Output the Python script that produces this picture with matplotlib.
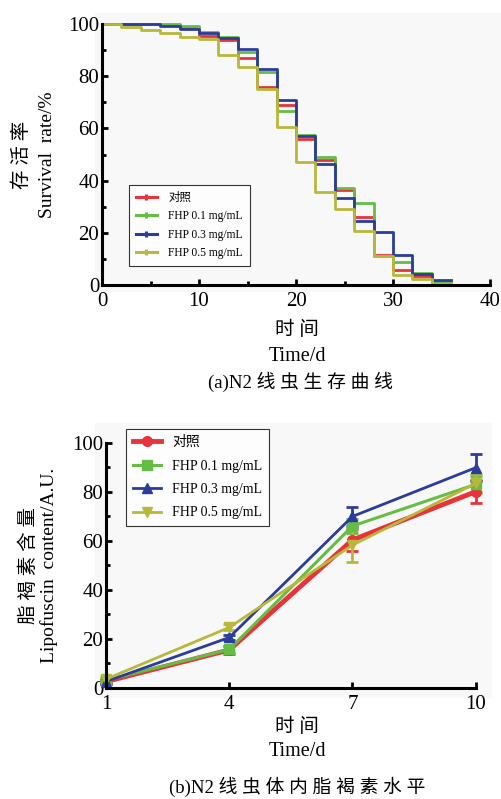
import numpy as np
import matplotlib
matplotlib.use('Agg')
import matplotlib.pyplot as plt
from matplotlib.lines import Line2D
from matplotlib.patches import Rectangle
from matplotlib.ticker import MultipleLocator

plt.rcParams['font.family'] = ['Liberation Serif', 'Noto Sans CJK SC']

# ---- (a) survival curves, step every 2 days ----
days = [0, 2, 4, 6, 8, 10, 12, 14, 16, 18, 20, 22, 24, 26, 28, 30, 32, 34, 36]
surv_ctrl = [100, 100, 100, 99.6, 98.4, 95.4, 93.9, 86.9, 76.0, 69.0, 55.9, 48.0, 36.5, 26.0, 11.6, 5.9, 3.3, 0.8]
surv_01 = [100, 100, 100, 100, 99.2, 96.8, 95.2, 89.2, 81.5, 66.7, 57.5, 49.0, 37.1, 31.4, 11.2, 8.7, 4.6, 1.3]
surv_03 = [100, 100, 100, 99.4, 98.0, 96.7, 94.8, 90.3, 82.8, 70.9, 56.9, 46.3, 33.3, 24.7, 20.2, 11.6, 4.3, 1.8]
surv_05 = [100, 98.7, 97.7, 96.4, 94.9, 94.1, 88.1, 83.7, 75.1, 60.7, 47.0, 35.8, 29.1, 20.5, 11.0, 3.7, 2.3, 0.5]

# ---- (b) lipofuscin content ----
time_b = [1, 4, 7, 10]
lipo_ctrl = [2.5, 15.4, 60.3, 80.0]
lipo_01 = [3.0, 15.6, 66.0, 83.0]
lipo_03 = [2.5, 20.5, 69.9, 89.8]
lipo_05 = [3.5, 24.6, 58.2, 83.4]
err_ctrl = [0.8, 1.8, 4.4, 4.8]
err_01 = [0.8, 1.5, 3.0, 3.5]
err_03 = [0.8, 1.2, 4.0, 5.4]
err_05 = [0.8, 1.2, 7.0, 3.7]

labels = ['对照', 'FHP 0.1 mg/mL', 'FHP 0.3 mg/mL', 'FHP 0.5 mg/mL']
colors = ['#e8333a', '#66bd45', '#2b3d9c', '#b8b83a']

W, H = 501, 799
fig = plt.figure(figsize=(W / 100, H / 100), dpi=100)

def fx(px):
    return px / W

def fy(py):
    return 1 - py / H

# light gray panels behind the plots
for x0, y0, x1, y1 in [(95, 13, 501, 292), (95, 423, 492, 698)]:
    fig.patches.append(Rectangle((fx(x0), fy(y1)), fx(x1 - x0), (y1 - y0) / H,
                                 transform=fig.transFigure, facecolor='#f8f8f8',
                                 edgecolor='none', zorder=-10))

def style_axes(ax):
    ax.set_facecolor('none')
    ax.set_zorder(5)
    for s in ['top', 'right']:
        ax.spines[s].set_visible(False)
    for s in ['left', 'bottom']:
        ax.spines[s].set_linewidth(2.2)
    ax.tick_params(which='major', direction='in', length=4, width=2, labelsize=15)
    ax.tick_params(which='minor', direction='in', length=3, width=2)
    ax.tick_params(axis='x', pad=5)
    ax.tick_params(axis='y', pad=2)

# ---- top panel ----
ax1 = fig.add_axes([fx(102), fy(285), fx(490 - 102), (285 - 24) / H])
style_axes(ax1)
for vals, c in zip([surv_ctrl, surv_01, surv_03, surv_05], colors):
    yv = vals + [vals[-1]]
    ax1.step(days, yv, where='post', color=c, lw=2.0, clip_on=False)
ax1.set_xlim(0, 40)
ax1.set_ylim(0, 100)
ax1.xaxis.set_major_locator(MultipleLocator(10))
ax1.xaxis.set_minor_locator(MultipleLocator(5))
ax1.yaxis.set_major_locator(MultipleLocator(20))
ax1.yaxis.set_minor_locator(MultipleLocator(10))

handles = [Line2D([], [], color=c, lw=2.2, marker='|', markersize=5, markeredgewidth=2.2)
           for c in colors]
leg1 = ax1.legend(handles, labels, loc='upper left',
                  bbox_to_anchor=(fx(129), fy(185)), bbox_transform=fig.transFigure,
                  fontsize=8.3, frameon=True, fancybox=False, handlelength=1.8,
                  handletextpad=1.0, labelspacing=0.55, borderpad=0.6, borderaxespad=0)
leg1.get_frame().set_edgecolor('black')
leg1.get_frame().set_linewidth(0.8)

ax1.set_ylabel('存 活 率\nSurvival  rate/%', fontsize=14, linespacing=1.55, labelpad=9)
fig.text(fx(297), fy(330), '时 间', ha='center', va='center', fontsize=14)
fig.text(fx(297), fy(356), 'Time/d', ha='center', va='center', fontsize=14.5)
fig.text(fx(300), fy(382), '(a)N2 线 虫 生 存 曲 线', ha='center', va='center', fontsize=13.5)

# ---- bottom panel ----
ax2 = fig.add_axes([fx(106), fy(687.7), fx(475.7 - 106), 245 / H])
style_axes(ax2)
markers = ['o', 's', '^', 'v']
lws = [3.5, 2.2, 2.0, 2.0]
for vals, errs, c, m, lw in zip([lipo_ctrl, lipo_01, lipo_03, lipo_05],
                                [err_ctrl, err_01, err_03, err_05], colors, markers, lws):
    ax2.errorbar(time_b, vals, yerr=errs, color=c, lw=lw, marker=m, markersize=7,
                 elinewidth=2, capsize=4, capthick=2, clip_on=False)
ax2.set_xlim(1, 10)
ax2.set_ylim(0, 100)
ax2.set_xticks(time_b)
ax2.yaxis.set_major_locator(MultipleLocator(20))
ax2.yaxis.set_minor_locator(MultipleLocator(10))

handles2 = [Line2D([], [], color=c, lw=lw, marker=m, markersize=7)
            for c, m, lw in zip(colors, markers, lws)]
leg2 = ax2.legend(handles2, labels, loc='upper left',
                  bbox_to_anchor=(fx(126), fy(429)), bbox_transform=fig.transFigure,
                  fontsize=10, frameon=True, fancybox=False, handlelength=2.0,
                  handletextpad=0.8, labelspacing=0.75, borderpad=0.5, borderaxespad=0)
leg2.get_frame().set_edgecolor('black')
leg2.get_frame().set_linewidth(0.8)

ax2.set_ylabel('脂 褐 素 含 量\nLipofuscin  content/A.U.', fontsize=14, linespacing=1.15, labelpad=10)
fig.text(fx(297), fy(727), '时 间', ha='center', va='center', fontsize=14)
fig.text(fx(297), fy(752), 'Time/d', ha='center', va='center', fontsize=14.5)
fig.text(fx(297), fy(787), '(b)N2 线 虫 体 内 脂 褐 素 水 平', ha='center', va='center', fontsize=13.5)

fig.savefig('out.png', dpi=100)
